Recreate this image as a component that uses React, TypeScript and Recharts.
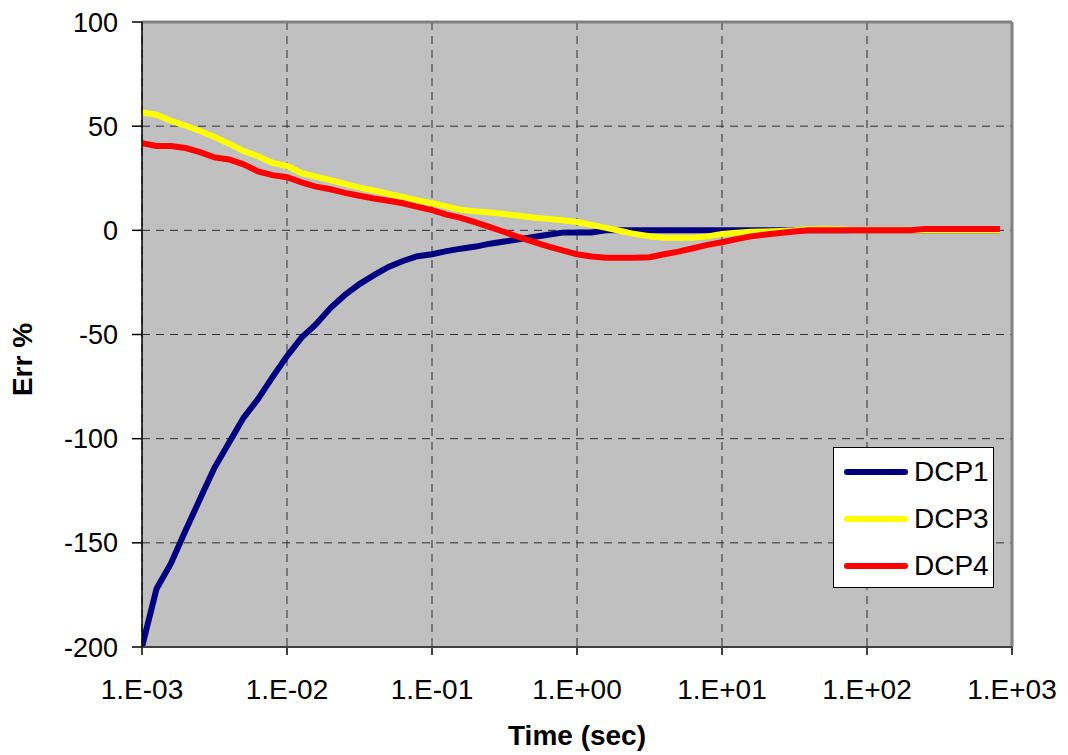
import React from 'react';
import { LineChart, Line, XAxis, YAxis, CartesianGrid, ReferenceLine, Label } from 'recharts';

// time values (sec), roughly 10 points per decade
const times = [
    0.001, 0.00126, 0.00158, 0.002, 0.00251, 0.00316, 0.00398, 0.00501, 0.00631, 0.00794,
    0.01, 0.0126, 0.0158, 0.02, 0.0251, 0.0316, 0.0398, 0.0501, 0.0631, 0.0794,
    0.1, 0.126, 0.158, 0.2, 0.251, 0.316, 0.398, 0.501, 0.631, 0.794,
    1, 1.26, 1.58, 2, 2.51, 3.16, 3.98, 5.01, 6.31, 7.94,
    10, 12.6, 15.8, 20, 25.1, 31.6, 39.8, 50.1, 63.1, 79.4,
    100, 126, 158, 200, 251, 316, 398, 501, 631, 826,
];

const dcp1 = [
    -200, -172, -160, -144, -129, -114, -102, -90, -81, -70.5,
    -60.4, -51.5, -45.2, -37.2, -31, -25.8, -21.5, -17.6, -14.7, -12.4,
    -11.5, -10, -8.8, -7.8, -6.4, -5.4, -4.3, -3.2, -2.1, -1.1,
    -1, -1, 0, 0, 0, 0, 0, 0, 0, 0,
    0, 0, 0, 0, 0, 0, 0, 0, 0, 0,
    0, 0, 0, 0, 0, 0, 0, 0, 0, 0,
];

const dcp3 = [
    56.6, 55.5, 52.6, 50.2, 47.7, 44.8, 41.6, 38.1, 35.6, 32.4,
    30.9, 27.5, 25.8, 24.1, 22.3, 20.5, 19.1, 17.5, 16, 14.4,
    13, 11.5, 9.9, 9.1, 8.6, 7.8, 7, 6.2, 5.5, 4.8,
    4, 2.6, 1.2, -0.3, -1.8, -2.8, -3.5, -3.5, -3.5, -2.9,
    -1.8, -1.2, -0.7, -0.5, -0.3, 0, 0.5, 0.8, 0.5, 0,
    0, 0, 0, 0, 0, 0, 0, 0, 0, 0,
];

const dcp4 = [
    41.8, 40.5, 40.5, 39.5, 37.5, 35, 34, 31.7, 28.3, 26.5,
    25.5, 23, 21, 19.7, 18, 16.6, 15.3, 14.2, 13, 11.3,
    9.7, 7.5, 6, 3.8, 1.5, -0.8, -3.3, -5.5, -7.7, -9.6,
    -11.5, -12.6, -13.1, -13.1, -13.1, -12.9, -11.5, -10.2, -8.6, -7,
    -5.7, -4.2, -2.9, -2, -1.3, -0.6, 0, 0, 0, 0,
    0, 0, 0, 0, 0.7, 0.7, 0.7, 0.7, 0.7, 0.7,
];

const xTicks = [0.001, 0.01, 0.1, 1, 10, 100, 1000];
const yTicks = [-200, -150, -100, -50, 0, 50, 100];

const series = [
    { key: 'DCP1', color: '#000080' },
    { key: 'DCP3', color: '#FFFF00' },
    { key: 'DCP4', color: '#FF0000' },
];

const FONT = '"Liberation Sans", Arial, sans-serif';

const formatTime = (v: number) => {
    const e = Math.round(Math.log10(v));
    return '1.E' + (e < 0 ? '-' : '+') + String(Math.abs(e)).padStart(2, '0');
};

// legend box sits inside the plot area, bottom right
const ChartLegend = () => (
    <div style={{
        position: 'absolute', left: 833, top: 447,
        width: 161, height: 141, boxSizing: 'border-box', background: '#fff',
        border: '1px solid #000', paddingTop: 0, fontFamily: FONT,
    }}>
        {series.map(s => (
            <div key={s.key} style={{ display: 'flex', alignItems: 'center', height: 47 }}>
                <div style={{ width: 64, height: 6, borderRadius: 3, background: s.color, marginLeft: 10, marginRight: 6 }} />
                <span style={{ fontSize: 28, color: '#000' }}>{s.key}</span>
            </div>
        ))}
    </div>
);

const App: React.FC = () => {
    const data = times.map((t, i) => ({
        t,
        DCP1: dcp1[i],
        DCP3: dcp3[i],
        DCP4: dcp4[i],
    }));

    return (
        <div style={{ position: 'absolute', left: 0, top: 0, width: 1068, height: 755, background: '#fff' }}>
            <LineChart
                width={1068}
                height={755}
                data={data}
                margin={{ top: 22, right: 56, left: 0, bottom: 0 }}
                style={{ fontFamily: FONT }}
            >
                <CartesianGrid stroke="#303030" strokeDasharray="8 6" fill="#C0C0C0" />
                <XAxis
                    dataKey="t"
                    type="number"
                    scale="log"
                    domain={[0.001, 1000]}
                    ticks={xTicks}
                    tickFormatter={formatTime}
                    allowDataOverflow
                    height={108}
                    tickSize={8}
                    tickMargin={24}
                    stroke="#404040"
                    strokeWidth={2}
                    tick={{ fill: '#000', fontSize: 28 }}
                >
                    <Label value="Time (sec)" position="insideBottom" offset={10}
                        style={{ fontSize: 28, fontWeight: 'bold', fill: '#000' }} />
                </XAxis>
                <YAxis
                    type="number"
                    domain={[-200, 100]}
                    ticks={yTicks}
                    width={142}
                    tickSize={10}
                    tickMargin={14}
                    stroke="#000"
                    strokeWidth={1.5}
                    tick={{ fill: '#000', fontSize: 27 }}
                    allowDataOverflow
                >
                    <Label
                        content={({ viewBox }: any) => {
                            const cx = 22;
                            const cy = viewBox.y + viewBox.height / 2 + 25;
                            return (
                                <text x={cx} y={cy} transform={`rotate(-90 ${cx} ${cy})`} textAnchor="middle"
                                    dominantBaseline="central" style={{ fontSize: 28, fontWeight: 'bold', fill: '#000' }}>
                                    Err %
                                </text>
                            );
                        }}
                    />
                </YAxis>
                <ReferenceLine y={100} stroke="#808080" strokeWidth={3} />
                <ReferenceLine x={1000} stroke="#808080" strokeWidth={3} />
                {series.map(s => (
                    <Line
                        key={s.key}
                        type="linear"
                        dataKey={s.key}
                        stroke={s.color}
                        strokeWidth={6}
                        dot={false}
                        isAnimationActive={false}
                    />
                ))}
            </LineChart>
            <ChartLegend />
        </div>
    );
};

export default App;
